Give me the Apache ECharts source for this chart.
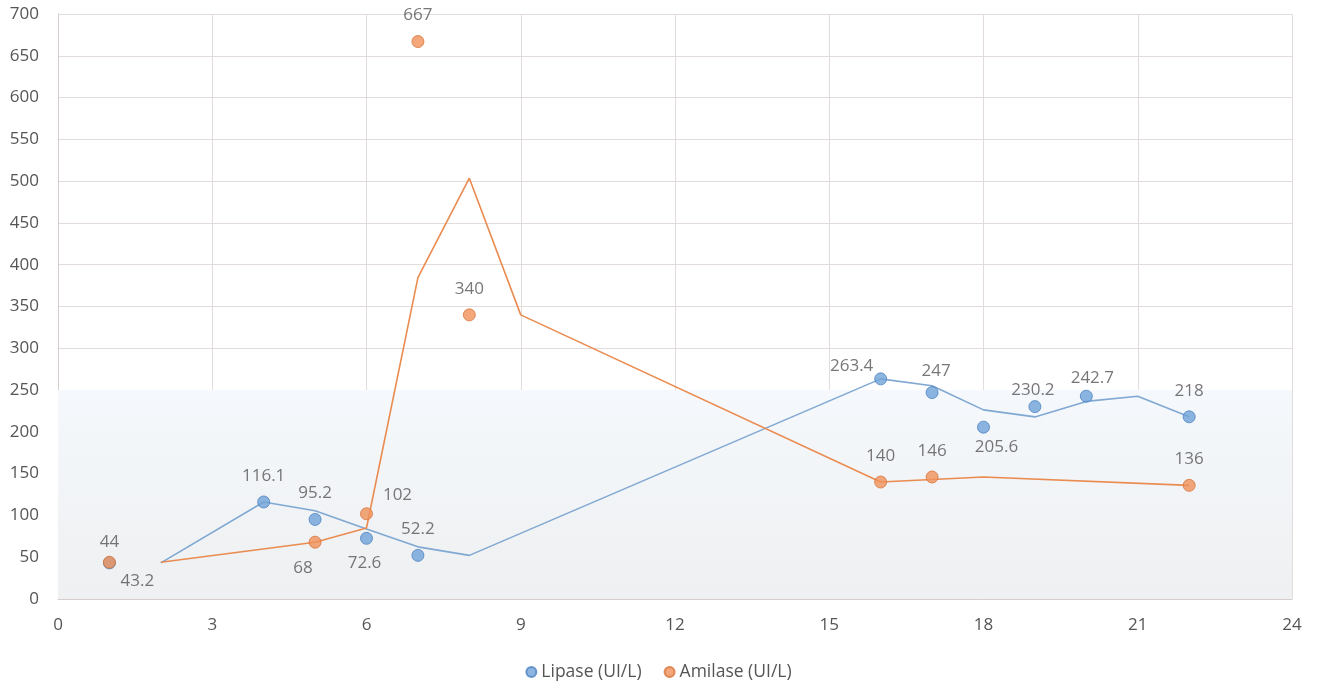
<!DOCTYPE html>
<html>
<head>
<meta charset="utf-8">
<title>Lipase / Amilase</title>
<script src="https://cdn.jsdelivr.net/npm/echarts@6/dist/echarts.min.js"></script>
<style>
  html, body { margin: 0; padding: 0; background: #ffffff; }
  #chart { width: 1317px; height: 687px; }
</style>
</head>
<body>
<div id="chart"></div>
<script>
// Measured values per day
const lipaseDays   = [1, 4, 5, 6, 7, 16, 17, 18, 19, 20, 22];
const lipaseValues = [43.2, 116.1, 95.2, 72.6, 52.2, 263.4, 247, 205.6, 230.2, 242.7, 218];

const amilaseDays   = [1, 5, 6, 7, 8, 16, 17, 22];
const amilaseValues = [44, 68, 102, 667, 340, 140, 146, 136];

// Two-period moving-average trend lines
const lipaseTrendDays   = [2, 4, 5, 6, 7, 8, 16, 17, 18, 19, 20, 21, 22];
const lipaseTrendValues = [43.2, 116.1, 105.65, 83.9, 62.4, 52.2, 263.4, 255.2, 226.3, 217.9, 236.45, 242.7, 218];

const amilaseTrendDays   = [2, 5, 6, 7, 8, 9, 16, 17, 18, 22];
const amilaseTrendValues = [44, 68, 85, 384.5, 503.5, 340, 140, 143, 146, 136];

// Axis ticks
const xTicks = [0, 3, 6, 9, 12, 15, 18, 21, 24];
const yTicks = [0, 50, 100, 150, 200, 250, 300, 350, 400, 450, 500, 550, 600, 650, 700];

const seriesNames = ['Lipase (UI/L)', 'Amilase (UI/L)'];

// Label placement (pixel shift from the marker centre), default is above the marker
const defaultShift = [0, -26];
const lipaseLabelShift  = { 0: [28, 18], 3: [-2, 25], 5: [-29, -13], 6: [4, -21], 7: [13, 20], 8: [-2, -16], 9: [6, -18] };
const amilaseLabelShift = { 0: [0, -20], 1: [-12, 26], 2: [31, -19] };

const FONT = '"Open Sans", "Liberation Sans", sans-serif';
const TEXT = '#555555';
const GRID_LINE = '#e3dcdc';

function pointsFor(days, values, shifts) {
  return days.map((d, i) => ({
    value: [d, values[i]],
    label: { offset: shifts && shifts[i] ? shifts[i] : defaultShift }
  }));
}

function pairs(days, values) {
  return days.map((d, i) => [d, values[i]]);
}

const chart = echarts.init(document.getElementById('chart'), null, { renderer: 'canvas' });

const markerLabel = {
  show: true,
  position: 'inside',
  color: TEXT,
  fontFamily: FONT,
  fontSize: 17,
  formatter: p => String(p.value[1])
};

chart.setOption({
  animation: false,
  backgroundColor: '#ffffff',
  grid: { left: 58, right: 25, top: 14, bottom: 88, containLabel: false },
  legend: {
    data: [
      { name: seriesNames[0], icon: 'circle' },
      { name: seriesNames[1], icon: 'circle' }
    ],
    bottom: 1,
    left: 'center',
    itemWidth: 10,
    itemHeight: 10,
    itemGap: 22,
    textStyle: { color: TEXT, fontFamily: FONT, fontSize: 17.5 }
  },
  xAxis: {
    type: 'value',
    min: xTicks[0],
    max: xTicks[xTicks.length - 1],
    interval: xTicks[1] - xTicks[0],
    axisLine: { show: true, lineStyle: { color: '#d6cdcd', width: 1 } },
    axisTick: { show: false },
    axisLabel: { color: TEXT, fontFamily: FONT, fontSize: 17, margin: 18 },
    splitLine: { show: true, lineStyle: { color: GRID_LINE, width: 1 } }
  },
  yAxis: {
    type: 'value',
    min: yTicks[0],
    max: yTicks[yTicks.length - 1],
    interval: yTicks[1] - yTicks[0],
    axisLine: { show: true, lineStyle: { color: '#d6cdcd', width: 1 } },
    axisTick: { show: false },
    axisLabel: { color: TEXT, fontFamily: FONT, fontSize: 17, margin: 19 },
    splitLine: { show: true, lineStyle: { color: GRID_LINE, width: 1 } }
  },
  series: [
    {
      name: 'Lipase trend',
      type: 'line',
      data: pairs(lipaseTrendDays, lipaseTrendValues),
      showSymbol: false,
      symbol: 'none',
      silent: true,
      z: 2,
      lineStyle: { color: '#80a8d2', width: 1.6 },
      markArea: {
        silent: true,
        itemStyle: {
          color: new echarts.graphic.LinearGradient(0, 0, 0, 1, [
            { offset: 0, color: '#f5f8fc' },
            { offset: 1, color: '#eef0f1' }
          ])
        },
        data: [[{ yAxis: 0 }, { yAxis: 250 }]]
      }
    },
    {
      name: 'Amilase trend',
      type: 'line',
      data: pairs(amilaseTrendDays, amilaseTrendValues),
      showSymbol: false,
      symbol: 'none',
      silent: true,
      z: 2,
      lineStyle: { color: '#ea8b50', width: 1.6 }
    },
    {
      name: seriesNames[0],
      type: 'scatter',
      data: pointsFor(lipaseDays, lipaseValues, lipaseLabelShift),
      symbol: 'circle',
      symbolSize: 12,
      z: 3,
      itemStyle: { color: '#6fa2d8', borderColor: '#4c82c2', borderWidth: 1 },
      label: markerLabel
    },
    {
      name: seriesNames[1],
      type: 'scatter',
      data: pointsFor(amilaseDays, amilaseValues, amilaseLabelShift),
      symbol: 'circle',
      symbolSize: 12,
      z: 4,
      itemStyle: { color: '#f0915a', borderColor: '#d8743a', borderWidth: 1 },
      label: markerLabel
    }
  ]
});
</script>
</body>
</html>
